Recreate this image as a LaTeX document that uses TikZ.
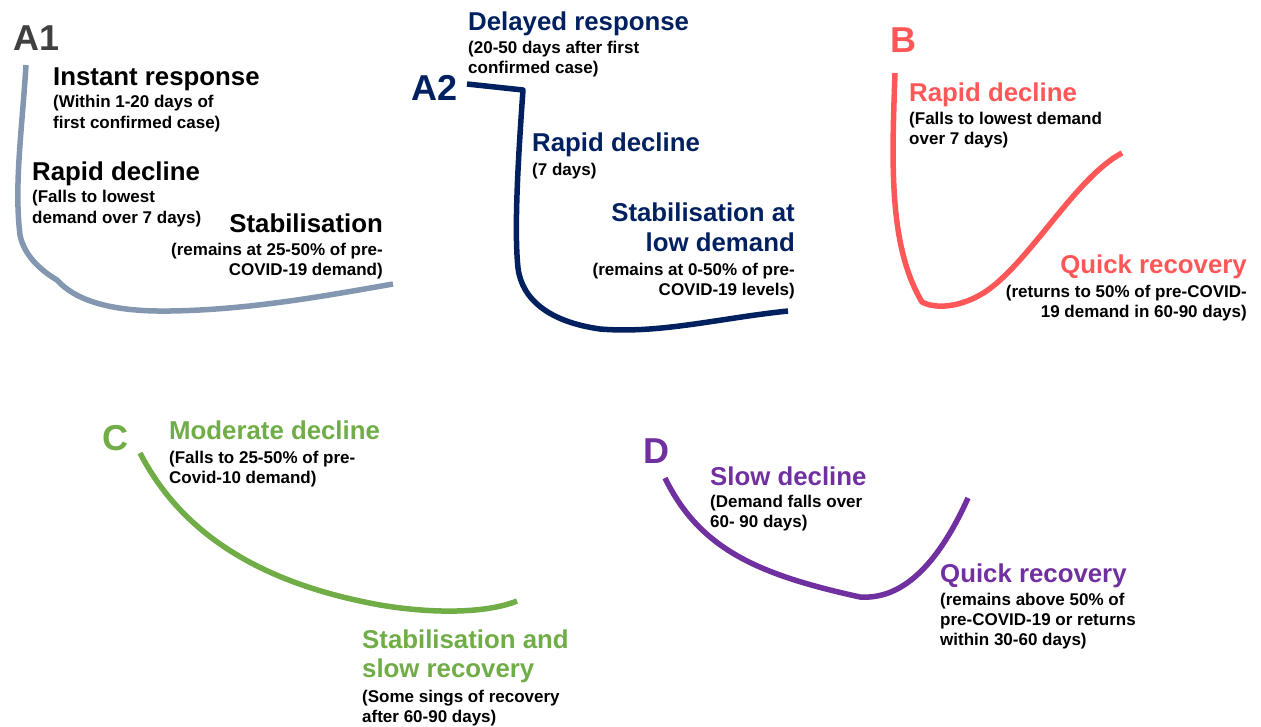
\documentclass[tikz,border=0pt]{standalone}
\usepackage{fontspec}
\setmainfont{Liberation Sans}
\definecolor{aonegrey}{HTML}{8497B0}
\definecolor{aoneletter}{HTML}{404040}
\definecolor{navy}{HTML}{002060}
\definecolor{coral}{HTML}{FF5757}
\definecolor{leaf}{HTML}{70AD47}
\definecolor{plum}{HTML}{7030A0}
\begin{document}
\begin{tikzpicture}[x=1pt,y=-1pt,
  panelletter/.style={font=\fontsize{36}{40}\selectfont\bfseries, inner sep=0},
  headline/.style={font=\fontsize{25.8}{30}\selectfont\bfseries, inner sep=0},
  subline/.style={font=\fontsize{17}{20}\selectfont\bfseries, inner sep=0},
  curve/.style={line width=5.5pt, line cap=butt, line join=round}]
\useasboundingbox (0,0) rectangle (1261,726);

% ---------- A1: instant response ----------
\draw[curve, aonegrey] (26,65) .. controls (22,130) and (14,185) .. (20,235)
  .. controls (24,255) and (40,270) .. (57,280)
  .. controls (75,300) and (110,312) .. (170,311)
  .. controls (250,310) and (330,295) .. (393,284);
\node[panelletter, aoneletter, anchor=base west] (a1) at (13,50) {A1};
\node[headline, anchor=base west] (a1h1) at (53,85) {Instant response};
\node[subline, anchor=base west] (a1s1) at (53,107) {(Within 1-20 days of};
\node[subline, anchor=base west] (a1s2) at (53,128) {first confirmed case)};
\node[headline, anchor=base west] (a1h2) at (32,180) {Rapid decline};
\node[subline, anchor=base west] (a1s3) at (32,202) {(Falls to lowest};
\node[subline, anchor=base west] (a1s4) at (32,223) {demand over 7 days)};
\node[headline, anchor=base east] (a1h3) at (383,232) {Stabilisation};
\node[subline, anchor=base east] (a1s5) at (383,255) {(remains at 25-50\% of pre-};
\node[subline, anchor=base east] (a1s6) at (383,275) {COVID-19 demand)};

% ---------- A2: delayed response ----------
\draw[curve, navy] (467,84) -- (523,90)
  .. controls (518,160) and (514,230) .. (518,268)
  .. controls (522,300) and (550,322) .. (600,329)
  .. controls (660,334) and (720,318) .. (788,311);
\node[panelletter, navy, anchor=base west] (a2) at (411,100) {A2};
\node[headline, navy, anchor=base west] (a2h1) at (468,30) {Delayed response};
\node[subline, anchor=base west] (a2s1) at (468,53) {(20-50 days after first};
\node[subline, anchor=base west] (a2s2) at (468,73) {confirmed case)};
\node[headline, navy, anchor=base west] (a2h2) at (532,151) {Rapid decline};
\node[subline, anchor=base west] (a2s3) at (532,175) {(7 days)};
\node[headline, navy, anchor=base east] (a2h3) at (795,221) {Stabilisation at};
\node[headline, navy, anchor=base east] (a2h4) at (795,251) {low demand};
\node[subline, anchor=base east] (a2s4) at (795,275) {(remains at 0-50\% of pre-};
\node[subline, anchor=base east] (a2s5) at (795,295) {COVID-19 levels)};

% ---------- B: rapid decline, quick recovery ----------
\draw[curve, coral] (895,73) .. controls (892,160) and (888,245) .. (922,302)
  .. controls (935,309) and (960,308) .. (985,292)
  .. controls (1030,262) and (1075,178) .. (1122,153);
\node[panelletter, coral, anchor=base west] (b) at (890,52) {B};
\node[headline, coral, anchor=base west] (bh1) at (909,101) {Rapid decline};
\node[subline, anchor=base west] (bs1) at (909,124) {(Falls to lowest demand};
\node[subline, anchor=base west] (bs2) at (909,144) {over 7 days)};
\node[headline, coral, anchor=base east] (bh2) at (1247,273) {Quick recovery};
\node[subline, anchor=base east] (bs3) at (1247,297) {(returns to 50\% of pre-COVID-};
\node[subline, anchor=base east] (bs4) at (1247,317) {19 demand in 60-90 days)};

% ---------- C: moderate decline, slow recovery ----------
\draw[curve, leaf] (140,453) .. controls (185,540) and (270,585) .. (380,605)
  .. controls (440,615) and (490,612) .. (517,601);
\node[panelletter, leaf, anchor=base west] (c) at (102,450) {C};
\node[headline, leaf, anchor=base west] (ch1) at (169,439) {Moderate decline};
\node[subline, anchor=base west] (cs1) at (169,463) {(Falls to 25-50\% of pre-};
\node[subline, anchor=base west] (cs2) at (169,483) {Covid-10 demand)};
\node[headline, leaf, anchor=base west] (ch2) at (362,648) {Stabilisation and};
\node[headline, leaf, anchor=base west] (ch3) at (362,677) {slow recovery};
\node[subline, anchor=base west] (cs3) at (362,702) {(Some sings of recovery};
\node[subline, anchor=base west] (cs4) at (362,722) {after 60-90 days)};

% ---------- D: slow decline, quick recovery ----------
\draw[curve, plum] (665,478) .. controls (700,550) and (760,575) .. (860,597)
  .. controls (905,600) and (940,560) .. (968,498);
\node[panelletter, plum, anchor=base west] (d) at (643,463) {D};
\node[headline, plum, anchor=base west] (dh1) at (710,485) {Slow decline};
\node[subline, anchor=base west] (ds1) at (710,507) {(Demand falls over};
\node[subline, anchor=base west] (ds2) at (710,527) {60- 90 days)};
\node[headline, plum, anchor=base west] (dh2) at (940,582) {Quick recovery};
\node[subline, anchor=base west] (ds3) at (940,605) {(remains above 50\% of};
\node[subline, anchor=base west] (ds4) at (940,625) {pre-COVID-19 or returns};
\node[subline, anchor=base west] (ds5) at (940,645) {within 30-60 days)};
\end{tikzpicture}
\end{document}
